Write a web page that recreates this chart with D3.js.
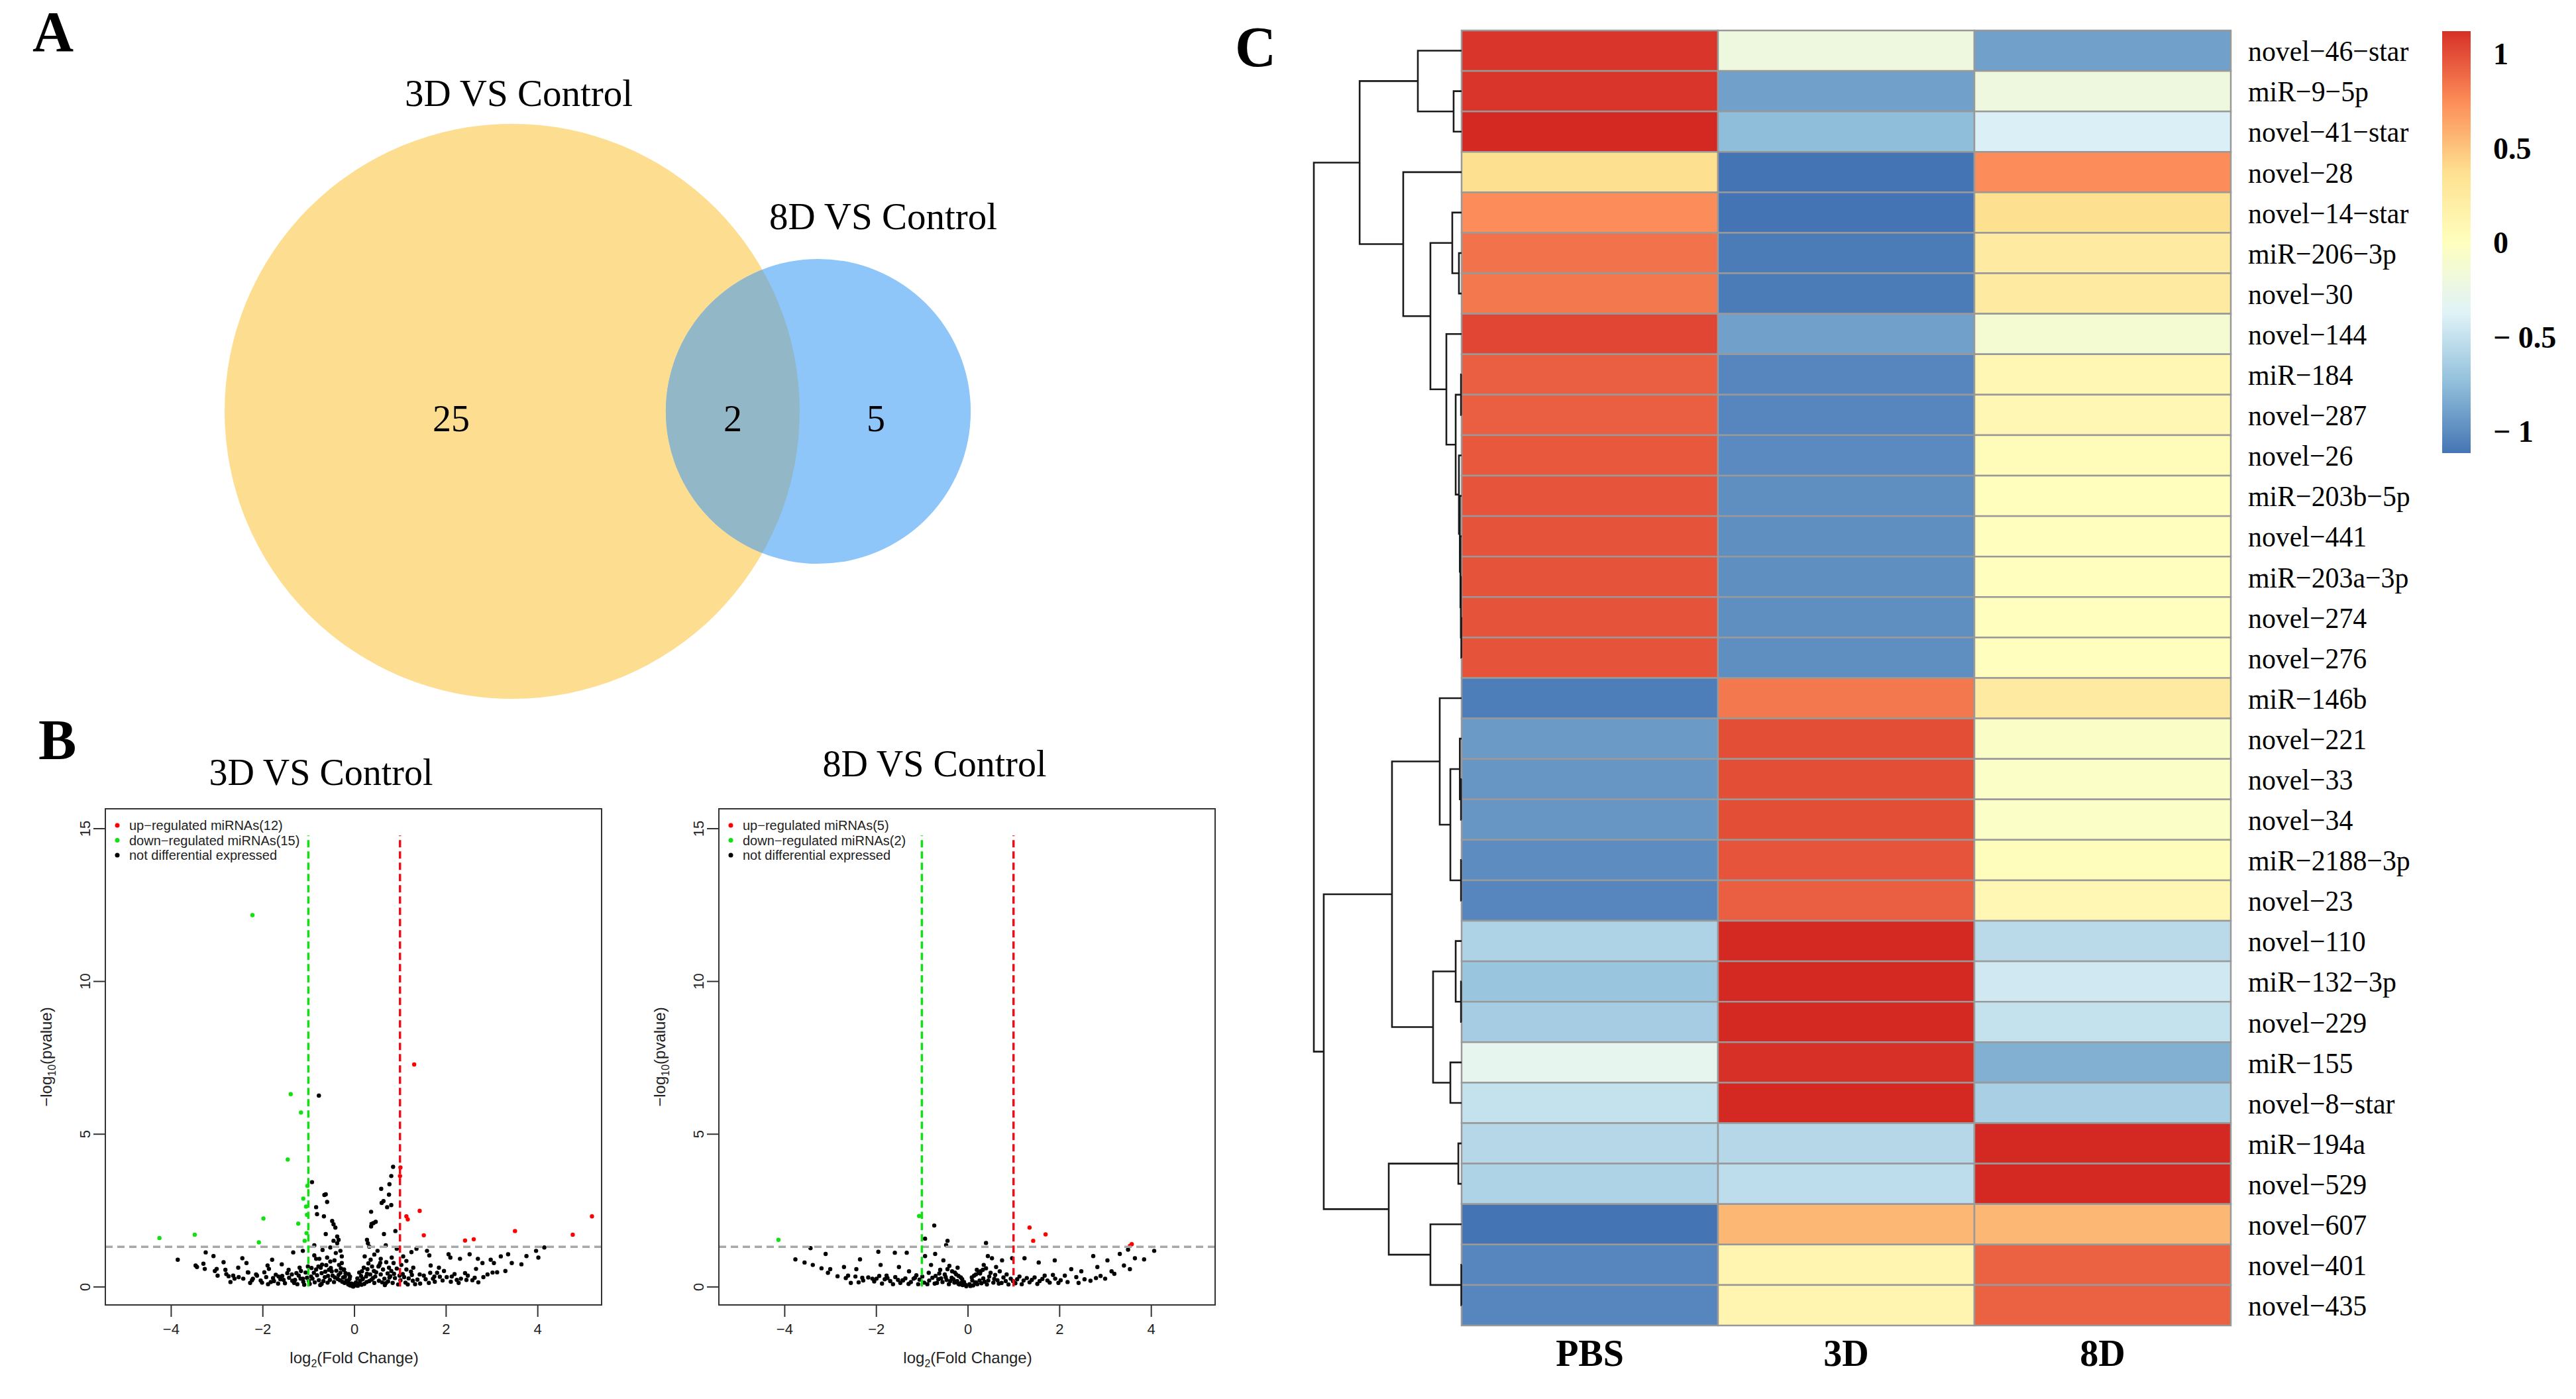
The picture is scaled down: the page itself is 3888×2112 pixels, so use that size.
<!DOCTYPE html>
<html>
<head>
<meta charset="utf-8">
<script src="https://cdn.jsdelivr.net/npm/d3@7"></script>
<style>
  body { margin: 0; background: #fff; }
  svg { display: block; }
</style>
</head>
<body>
<svg id="chart" width="3888" height="2112"></svg>
<script>
// ---------- data ----------
const vennSets = ['3D VS Control', '8D VS Control'];
const vennSetSizes = [27, 7];
const vennCounts = [25, 2, 5]; // only 3D, both, only 8D

const volcanoTitles = ['3D VS Control', '8D VS Control'];
const xTicks = [-4, -2, 0, 2, 4];
const yTicks = [0, 5, 10, 15];
const pCut = 1.3;
const fcCut = 1;
const legend3D = ['up\u2212regulated miRNAs(12)', 'down\u2212regulated miRNAs(15)', 'not differential expressed'];
const legend8D = ['up\u2212regulated miRNAs(5)', 'down\u2212regulated miRNAs(2)', 'not differential expressed'];

const up3D = [[1.31,7.27],[1.43,2.48],[1.14,2.3],[1.17,2.2],[1.52,1.68],[2.42,1.51],[2.61,1.55],[3.51,1.82],[4.77,1.7],[5.19,2.3],[1.0,3.62],[1.01,3.9]];
const down3D = [[-2.22,12.16],[-1.385,6.3],[-1.16,5.7],[-1.45,4.16],[-1.11,2.88],[-1.98,2.23],[-1.22,2.06],[-4.25,1.59],[-3.48,1.7],[-2.08,1.45],[-1.03,2.35],[-1.05,2.62],[-1.02,3.3],[-1.04,1.75],[-1.08,1.5]];
const ns3D = [[-0.77,6.25],[-0.92,3.42],[0.85,3.92],[0.81,3.62],[0.59,3.2],[0.77,3.35],[0.64,2.8],[0.38,2.05],[0.47,2.12],[-0.65,3.0],
  [-0.59,2.77],[-0.83,2.6],[-0.81,2.37],[-0.66,2.3],[-0.62,3.02],[0.37,2.45],[0.6,2.74],[0.72,2.6],[0.76,3.01],[0.81,2.67],[0.9,1.82],
  [-3.85,0.88],[-3.46,0.69],[-3.43,0.64],[-3.29,0.75],[-3.24,1.12],[-3.26,0.58],[-3.07,1.0],[-3.04,0.51],[-3.0,0.58],[-2.85,0.8],[-2.81,0.55],[-2.74,0.34],[-2.64,0.36],[-2.53,0.62],[-2.44,0.93],[-2.42,0.26],[-2.35,0.77],[-2.32,0.47],[-2.21,0.26],[-2.14,0.4],[-2.04,0.2],[-1.96,0.47],[-1.89,0.69],[-1.86,0.58],[-1.79,0.88],[-1.75,0.18],[-1.65,0.33],[-1.58,0.73],[-1.54,0.22],[-1.43,0.55],[-1.36,0.4],[-1.33,1.12],[-1.29,0.22],[-1.19,0.62],[-1.12,1.17],[-1.12,0.26],[-0.94,0.33],[-0.87,1.35],[-0.87,1.02],[-0.83,0.91],[-0.76,0.91],[-0.73,0.62],[-0.69,1.2],[-0.62,1.72],[-0.59,0.95],[-0.55,0.55],[-0.48,2.15],[-0.45,2.04],[-0.41,1.93],[-0.37,1.64],[-0.34,1.53],[-0.37,1.42],[-0.45,1.5],[-0.52,1.28],[-0.3,1.17],[-0.27,0.99],[-0.27,0.77],[-0.23,0.55],[-0.2,0.33],[-0.16,0.18],[-0.09,0.04],[-0.02,0.0],[0.05,0.04],[0.12,0.11],[0.19,0.26],[0.23,0.99],[0.28,1.53],[0.3,1.42],[0.33,1.31],[0.37,1.97],[0.42,2.08],[0.51,1.17],[0.58,0.91],[0.65,1.72],[0.69,1.35],[0.86,0.77],[0.93,1.24],[1.07,0.99],[1.14,0.84],[1.25,1.13],[1.29,0.62],[1.36,1.24],[1.43,0.4],[1.59,1.17],[1.64,1.02],[1.67,0.69],[1.75,0.33],[1.85,0.62],[1.96,0.51],[2.06,1.06],[2.1,0.95],[2.13,0.33],[2.24,0.22],[2.31,0.91],[2.42,0.44],[2.45,0.22],[2.52,1.06],[2.63,0.29],[2.66,0.58],[2.7,0.91],[2.8,0.77],[2.91,0.4],[2.98,0.88],[3.05,0.77],[3.12,0.47],[3.2,0.99],[3.3,0.51],[3.36,1.06],[3.44,0.77],[3.65,0.73],[3.76,1.0],[3.97,1.17],[4.02,0.95],[4.15,1.28],
  [-0.04,0.02],[0.08,0.03],[-0.13,0.07],[0.16,0.06],[-0.21,0.12],[0.22,0.09],[-0.26,0.16],[0.27,0.15],[-0.31,0.21],[0.33,0.18],[-0.36,0.25],[0.38,0.23],[-0.42,0.3],[0.41,0.28],[-0.47,0.36],[0.46,0.33],[-0.53,0.22],[0.54,0.19],[-0.58,0.13],[0.61,0.14],[-0.64,0.31],[0.66,0.26],[-0.71,0.09],[0.69,0.11],[-0.77,0.21],[0.74,0.17],[-0.81,0.37],[0.79,0.34],[-0.86,0.14],[0.84,0.12],[-0.91,0.26],[0.89,0.28],[-0.97,0.09],[0.96,0.07],[-1.03,0.29],[1.01,0.21],[-1.06,0.46],[1.06,0.41],[-1.11,0.16],[1.12,0.13],[-1.21,0.36],[1.19,0.27],[-1.31,0.12],[1.28,0.19],[-1.42,0.29],[1.38,0.23],[-1.51,0.11],[1.52,0.36],[-1.61,0.24],[1.63,0.12],[-1.71,0.39],[1.72,0.26],[-1.82,0.15],[1.81,0.45],[-1.92,0.31],[1.93,0.2],[-2.01,0.13],[2.02,0.31],[-2.12,0.36],[2.11,0.16],[-2.23,0.21],[2.19,0.41],[-2.31,0.46],[2.33,0.26],[-2.52,0.31],[2.48,0.36],[-2.61,0.26],[2.58,0.21],[-2.79,0.41],[2.82,0.31],[-2.98,0.36],[3.02,0.46],
  [-0.12,0.41],[0.11,0.46],[-0.22,0.56],[0.21,0.62],[-0.33,0.71],[0.31,0.76],[-0.43,0.86],[0.43,0.51],[-0.51,0.61],[0.53,0.66],[-0.63,0.49],[0.63,0.56],[-0.71,0.44],[0.73,0.43],[-0.83,0.56],[0.81,0.51],[-0.93,0.61],[0.93,0.59],[-1.01,0.66],[1.03,0.71],[-1.16,0.51],[1.14,0.56],[-1.26,0.44],[1.24,0.49],
  [0.44,1.05],[0.36,0.88],[-0.4,1.1],[0.55,0.7],[0.7,0.8],[0.82,0.95],[-0.7,0.72],[-0.52,0.82],[0.15,0.35],[-0.1,0.25],[0.28,0.42],[-0.3,0.45],
  [-0.06,0.1],[0.04,0.14],[-0.17,0.2],[0.18,0.24],[-0.24,0.3],[0.26,0.33],[-0.34,0.38],[0.35,0.4],[-0.44,0.15],[0.44,0.12],[-0.49,0.5],[0.48,0.47],[-0.57,0.35],[0.58,0.4],[-0.67,0.18],[0.67,0.05],[-0.74,0.05],[0.77,0.3],[-0.88,0.45],[0.87,0.42],[-0.99,0.19],[0.99,0.36],[-1.09,0.06],[1.09,0.31],[-1.17,0.26],[1.17,0.07],[-1.24,0.08],[1.26,0.38],[-1.35,0.19],[1.33,0.08],[-1.46,0.44],[1.44,0.1],[-1.57,0.35],[1.56,0.24],[-1.66,0.1],[1.66,0.45],[-1.77,0.28],[1.76,0.16],[-1.88,0.08],[1.87,0.32],[-0.09,0.33],[0.07,0.27],[-0.19,0.44],[0.17,0.5],[-0.29,0.6],[0.29,0.57],[-0.39,0.52],[0.39,0.66],[-0.61,0.7],[0.57,0.78],[-0.78,0.66],[0.76,0.62],[-0.02,0.06],[0.01,0.09],[-0.13,0.16],[0.13,0.19],[2.28,0.12],[-2.27,0.12],[2.71,0.14],[-2.7,0.15]];

const up8D = [[1.35,1.93],[1.7,1.71],[1.43,1.5],[3.58,1.39],[3.54,1.33]];
const down8D = [[-4.13,1.53],[-1.06,2.31]];
const ns8D = [[-0.73,2.0],[-0.93,1.57],[-0.44,1.5],[-0.47,1.36],[0.4,1.43],[-3.43,1.26],[-3.1,1.07],[-3.76,0.89],[-3.56,0.79],[-3.38,0.71],[-3.19,0.6],[-3.0,0.57],[-2.7,0.64],[-2.61,0.36],[-2.43,0.57],[-2.35,0.89],[-2.3,0.29],[-2.08,0.26],[-1.95,1.14],[-1.9,0.71],[-1.77,0.36],[-1.59,1.11],[-1.5,0.64],[-1.42,0.21],[-1.33,1.11],[-1.28,0.5],[-1.15,0.29],[-0.93,1.0],[-0.8,0.71],[-0.71,1.07],[-0.62,0.43],[-0.53,0.86],[-0.44,0.57],[-0.35,0.29],[-0.27,0.14],[-0.18,0.07],[0.18,0.14],[0.27,0.43],[0.35,0.71],[0.44,1.0],[0.53,0.93],[0.62,0.64],[0.75,0.86],[0.97,0.93],[1.24,0.93],[1.55,0.79],[1.9,0.86],[2.12,0.36],[2.26,0.57],[2.48,0.5],[2.74,1.0],[2.83,0.64],[3.05,0.86],[3.14,0.5],[3.32,1.07],[3.41,0.69],[3.5,1.21],[3.54,0.57],[3.65,0.93],[3.85,0.89],[4.07,1.17],
  [-0.03,0.01],[0.06,0.02],[-0.11,0.05],[0.12,0.04],[-0.2,0.09],[0.21,0.08],[-0.29,0.13],[0.3,0.11],[-0.38,0.18],[0.37,0.16],[-0.46,0.22],[0.45,0.2],[-0.55,0.15],[0.56,0.13],[-0.64,0.24],[0.65,0.21],[-0.72,0.1],[0.74,0.12],[-0.84,0.2],[0.83,0.18],[-0.95,0.13],[0.94,0.26],[-1.05,0.23],[1.04,0.11],[-1.12,0.37],[1.13,0.33],[-1.24,0.15],[1.22,0.2],[-1.36,0.27],[1.35,0.14],[-1.47,0.12],[1.46,0.3],[-1.58,0.31],[1.57,0.18],[-1.69,0.18],[1.68,0.36],[-1.81,0.24],[1.79,0.13],[-1.93,0.35],[1.91,0.26],[-2.04,0.17],[2.03,0.21],[-2.17,0.3],[2.18,0.15],[-2.28,0.2],[2.37,0.31],[-2.45,0.33],[2.55,0.24],[-2.66,0.28],[2.68,0.19],[-2.84,0.34],[2.9,0.35],[3.0,0.26],[-3.05,0.45],[3.2,0.42],
  [-0.15,0.3],[0.14,0.36],[-0.25,0.4],[0.24,0.45],[-0.34,0.5],[0.33,0.55],[-0.5,0.4],[0.5,0.45],[-0.6,0.55],[0.6,0.38],[-0.7,0.35],[0.7,0.5],[-0.85,0.45],[0.85,0.4],[0.1,0.2],[-0.08,0.15],[0.4,0.6],[-0.4,0.68],[0.2,0.55],[-0.22,0.62],
  [-0.05,0.06],[0.04,0.08],[-0.14,0.12],[0.16,0.14],[-0.23,0.18],[0.26,0.2],[-0.31,0.24],[0.34,0.27],[-0.41,0.08],[0.42,0.07],[-0.48,0.31],[0.47,0.33],[-0.58,0.27],[0.58,0.25],[-0.67,0.12],[0.68,0.1],[-0.77,0.29],[0.78,0.3],[-0.88,0.08],[0.89,0.07],[-0.99,0.33],[0.99,0.18],[-1.08,0.08],[1.08,0.24],[-1.18,0.26],[1.18,0.08],[-1.29,0.09],[1.29,0.28],[-1.41,0.2],[1.4,0.22],[-1.52,0.22],[1.52,0.09],[-1.63,0.08],[1.63,0.25],[-1.75,0.28],[1.74,0.2],[-1.87,0.1],[1.86,0.38],[-1.99,0.26],[1.98,0.12],[-0.12,0.24],[0.09,0.3],[-0.2,0.35],[0.18,0.4],[-0.28,0.46],[0.28,0.5],[2.42,0.12],[-2.38,0.14],[2.8,0.28],[-2.55,0.12]];

const heatColumns = ['PBS', '3D', '8D'];
const heatRows = ['novel\u221246\u2212star', 'miR\u22129\u22125p', 'novel\u221241\u2212star', 'novel\u221228', 'novel\u221214\u2212star',
  'miR\u2212206\u22123p', 'novel\u221230', 'novel\u2212144', 'miR\u2212184', 'novel\u2212287', 'novel\u221226', 'miR\u2212203b\u22125p',
  'novel\u2212441', 'miR\u2212203a\u22123p', 'novel\u2212274', 'novel\u2212276', 'miR\u2212146b', 'novel\u2212221', 'novel\u221233',
  'novel\u221234', 'miR\u22122188\u22123p', 'novel\u221223', 'novel\u2212110', 'miR\u2212132\u22123p', 'novel\u2212229', 'miR\u2212155',
  'novel\u22128\u2212star', 'miR\u2212194a', 'novel\u2212529', 'novel\u2212607', 'novel\u2212401', 'novel\u2212435'];
const pbsValues = [1.1, 1.1, 1.15, 0.37, 0.75, 0.85, 0.83, 1.03, 0.93, 0.93, 0.96, 0.97, 0.98, 0.98, 0.98, 0.98,
  -1.07, -0.93, -0.95, -0.95, -1.0, -1.03, -0.6, -0.7, -0.65, -0.3, -0.5, -0.57, -0.6, -1.12, -1.03, -1.03];
const day3Values = [-0.2, -0.9, -0.75, -1.12, -1.12, -1.08, -1.08, -0.9, -1.03, -1.03, -1.01, -0.99, -0.99, -0.99, -0.99, -0.99,
  0.83, 1.0, 1.0, 1.0, 0.97, 0.93, 1.15, 1.15, 1.15, 1.12, 1.15, -0.57, -0.53, 0.56, 0.12, 0.12];
const day8Values = [-0.9, -0.2, -0.4, 0.75, 0.37, 0.25, 0.25, -0.13, 0.1, 0.1, 0.05, 0.02, 0.01, 0.01, 0.01, 0.01,
  0.25, -0.05, -0.04, -0.04, 0.03, 0.1, -0.55, -0.45, -0.5, -0.82, -0.63, 1.15, 1.15, 0.56, 0.92, 0.92];
const legendTicks = [1, 0.5, 0, -0.5, -1];
const legendTickLabels = ['1', '0.5', '0', '\u2212 0.5', '\u2212 1'];

// row dendrogram, R hclust style: negative = leaf (row index + 1), positive = earlier merge
const mergeLeft = [-15, -14, -13, -12, -11, -9, 6, -8, -6, -5, 10, -4, -2, -1, 14,
  -19, -18, -21, 17, -17, -24, -23, -26, 22, 20, -28, -31, -30, 26, 25, 15];
const mergeRight = [-16, 1, 2, 3, 4, -10, 5, 7, -7, 9, 8, 11, -3, 13, 12,
  -20, 16, -22, 18, 19, -25, 21, -27, 23, 24, -29, -32, 27, 28, 29, 30];
const mergeHeight = [0.002, 0.005, 0.008, 0.012, 0.018, 0.004, 0.04, 0.103, 0.018, 0.063, 0.211, 0.395, 0.054, 0.296, 0.69,
  0.004, 0.012, 0.004, 0.076, 0.148, 0.004, 0.04, 0.076, 0.193, 0.471, 0.022, 0.002, 0.211, 0.493, 0.933, 1.0];

// ---------- setup ----------
const svg = d3.select('#chart');
const serif = "'Liberation Serif', 'Times New Roman', serif";
const sans = "'Liberation Sans', Arial, sans-serif";
const minus = s => String(s).replace('-', '\u2212');

// panel letters
[['A', 49, 77], ['B', 58, 1146], ['C', 1864, 100]].forEach(([t, x, y]) => {
  svg.append('text').attr('x', x).attr('y', y).text(t)
    .attr('font-family', serif).attr('font-weight', 'bold').attr('font-size', 86);
});

// ---------- A: venn ----------
const vennR = d3.scalePow().exponent(0.47).domain([0, vennSetSizes[0]]).range([0, 434]);
const vennCx = [773, 1235];
const vennCy = 621;
const defs = svg.append('defs');
defs.append('clipPath').attr('id', 'clip-big')
  .append('circle').attr('cx', vennCx[0]).attr('cy', vennCy).attr('r', vennR(vennSetSizes[0]));

svg.append('circle').attr('cx', vennCx[0]).attr('cy', vennCy).attr('r', vennR(vennSetSizes[0])).attr('fill', '#FDDE90');
svg.append('circle').attr('cx', vennCx[1]).attr('cy', vennCy).attr('r', vennR(vennSetSizes[1])).attr('fill', '#8EC6FA');
svg.append('circle').attr('cx', vennCx[1]).attr('cy', vennCy).attr('r', vennR(vennSetSizes[1]))
  .attr('fill', '#92B8C8').attr('clip-path', 'url(#clip-big)');

[[vennSets[0], 783, 160], [vennSets[1], 1333, 346]].forEach(([t, x, y]) => {
  svg.append('text').attr('x', x).attr('y', y).attr('text-anchor', 'middle').text(t)
    .attr('font-family', serif).attr('font-size', 57);
});
const countX = [681, 1106, 1322];
vennCounts.forEach((c, i) => {
  svg.append('text').attr('x', countX[i]).attr('y', 651).attr('text-anchor', 'middle').text(c)
    .attr('font-family', serif).attr('font-size', 56);
});

// ---------- B: volcano plots ----------
const drawVolcano = (left, title, titleY, up, down, ns, legendLabels) => {
  const top = 1221, w = 749, h = 749;
  const x = d3.scaleLinear().domain([-5.43, 5.4]).range([left, left + w]);
  const y = d3.scaleLinear().domain([-0.6, 15.64]).range([top + h, top]);
  const g = svg.append('g');

  g.append('text').attr('x', left + w / 2 - 49).attr('y', titleY).attr('text-anchor', 'middle')
    .text(title).attr('font-family', serif).attr('font-size', 56);

  const pts = [[ns, '#000'], [down, '#12e012'], [up, '#f00']];
  pts.forEach(([data, col]) => {
    g.append('g').selectAll('circle').data(data).enter().append('circle')
      .attr('cx', d => x(d[0])).attr('cy', d => y(d[1])).attr('r', 3.2).attr('fill', col);
  });

  // threshold lines
  g.append('line').attr('x1', left).attr('x2', left + w).attr('y1', y(pCut)).attr('y2', y(pCut))
    .attr('stroke', '#a8a8a8').attr('stroke-width', 3.5).attr('stroke-dasharray', '11,7');
  [[-fcCut, '#12e012'], [fcCut, '#e8101a']].forEach(([v, col]) => {
    g.append('line').attr('x1', x(v)).attr('x2', x(v)).attr('y1', y(0)).attr('y2', y(14.77))
      .attr('stroke', col).attr('stroke-width', 3.5).attr('stroke-dasharray', '11,6');
  });

  g.append('rect').attr('x', left).attr('y', top).attr('width', w).attr('height', h)
    .attr('fill', 'none').attr('stroke', '#333').attr('stroke-width', 2);

  const xAxis = g.append('g').attr('transform', `translate(0,${top + h})`)
    .call(d3.axisBottom(x).tickValues(xTicks).tickSize(18).tickPadding(10).tickFormat(minus));
  xAxis.select('.domain').remove();
  xAxis.selectAll('line').attr('stroke', '#333').attr('stroke-width', 2);
  xAxis.selectAll('text').attr('font-family', sans).attr('font-size', 22).attr('fill', '#222');

  const yAxis = g.append('g').attr('transform', `translate(${left},0)`)
    .call(d3.axisLeft(y).tickValues(yTicks).tickSize(18).tickFormat(d => d));
  yAxis.select('.domain').remove();
  yAxis.selectAll('line').attr('stroke', '#333').attr('stroke-width', 2);
  yAxis.selectAll('text').attr('x', null).attr('dy', null)
    .attr('transform', 'translate(-23,0) rotate(-90)').attr('text-anchor', 'middle')
    .attr('font-family', sans).attr('font-size', 22).attr('fill', '#222');

  const xt = g.append('text').attr('x', x(0)).attr('y', 2058).attr('text-anchor', 'middle')
    .attr('font-family', sans).attr('font-size', 24).attr('fill', '#222');
  xt.append('tspan').text('log');
  xt.append('tspan').text('2').attr('font-size', 16).attr('dy', 6);
  xt.append('tspan').text('(Fold Change)').attr('dy', -6);

  const yt = g.append('text').attr('transform', `translate(${left - 81},${top + h / 2}) rotate(-90)`)
    .attr('text-anchor', 'middle').attr('font-family', sans).attr('font-size', 24).attr('fill', '#222');
  yt.append('tspan').text('\u2212log');
  yt.append('tspan').text('10').attr('font-size', 16).attr('dy', 6);
  yt.append('tspan').text('(pvalue)').attr('dy', -6);

  const legCols = ['#f00', '#12e012', '#000'];
  legendLabels.forEach((t, i) => {
    const ly = 1246 + i * 22.5;
    g.append('circle').attr('cx', left + 18).attr('cy', ly).attr('r', 3.5).attr('fill', legCols[i]);
    g.append('text').attr('x', left + 36).attr('y', ly + 7).text(t)
      .attr('font-family', sans).attr('font-size', 20).attr('fill', '#222');
  });
};

drawVolcano(159, volcanoTitles[0], 1185, up3D, down3D, ns3D, legend3D);
drawVolcano(1085, volcanoTitles[1], 1172, up8D, down8D, ns8D, legend8D);

// ---------- C: heatmap ----------
const hx = d3.scaleBand().domain(heatColumns).range([2206, 3367]);
const hy = d3.scaleBand().domain(heatRows).range([46, 2001]);
const lo = -1.115, hi = 1.12;
const palette = ['#4575B4', '#91BFDB', '#E0F3F8', '#FFFFBF', '#FEE090', '#FC8D59', '#D73027'];
const color = d3.scaleLinear().domain(palette.map((c, i) => lo + (hi - lo) * i / 6)).range(palette);

const columnValues = [pbsValues, day3Values, day8Values];
const cells = heatRows.flatMap((r, i) => heatColumns.map((c, j) => ({ row: r, col: c, v: columnValues[j][i] })));

svg.append('g').selectAll('rect').data(cells).enter().append('rect')
  .attr('x', d => hx(d.col)).attr('y', d => hy(d.row))
  .attr('width', hx.bandwidth()).attr('height', hy.bandwidth())
  .attr('fill', d => color(d.v)).attr('stroke', '#999').attr('stroke-width', 2.5);

svg.append('g').selectAll('text').data(heatRows).enter().append('text')
  .attr('transform', d => `translate(3393,${hy(d) + hy.bandwidth() / 2}) scale(0.93,1)`)
  .attr('dy', '0.35em').text(d => d)
  .attr('font-family', serif).attr('font-size', 45);

svg.append('g').selectAll('text').data(heatColumns).enter().append('text')
  .attr('x', d => hx(d) + hx.bandwidth() / 2).attr('y', 2062).attr('text-anchor', 'middle').text(d => d)
  .attr('font-family', serif).attr('font-weight', 'bold').attr('font-size', 56);

// dendrogram
const dx = d3.scaleLinear().domain([0, 1]).range([2206, 1983]);
const nodes = [];
const child = id => id < 0 ? { y: hy(heatRows[-id - 1]) + hy.bandwidth() / 2, h: 0 } : nodes[id - 1];
const dendro = svg.append('g');
mergeHeight.forEach((hgt, k) => {
  const a = child(mergeLeft[k]);
  const b = child(mergeRight[k]);
  nodes[k] = { y: (a.y + b.y) / 2, h: hgt };
  dendro.append('path')
    .attr('d', `M${dx(a.h)},${a.y}H${dx(hgt)}V${b.y}H${dx(b.h)}`)
    .attr('fill', 'none').attr('stroke', '#1a1a1a').attr('stroke-width', 2.6);
});

// colour legend
const grad = defs.append('linearGradient').attr('id', 'legend-grad')
  .attr('x1', 0).attr('x2', 0).attr('y1', 1).attr('y2', 0);
palette.forEach((c, i) => grad.append('stop').attr('offset', i / 6).attr('stop-color', c));
const ly = d3.scaleLinear().domain([lo, hi]).range([684, 47]);
svg.append('rect').attr('x', 3686).attr('y', ly(hi)).attr('width', 43).attr('height', ly(lo) - ly(hi))
  .attr('fill', 'url(#legend-grad)');
svg.append('g').selectAll('text').data(legendTicks).enter().append('text')
  .attr('x', 3763).attr('y', d => ly(d)).attr('dy', '0.35em')
  .text((d, i) => legendTickLabels[i])
  .attr('font-family', serif).attr('font-weight', 'bold').attr('font-size', 46);
</script>
</body>
</html>
